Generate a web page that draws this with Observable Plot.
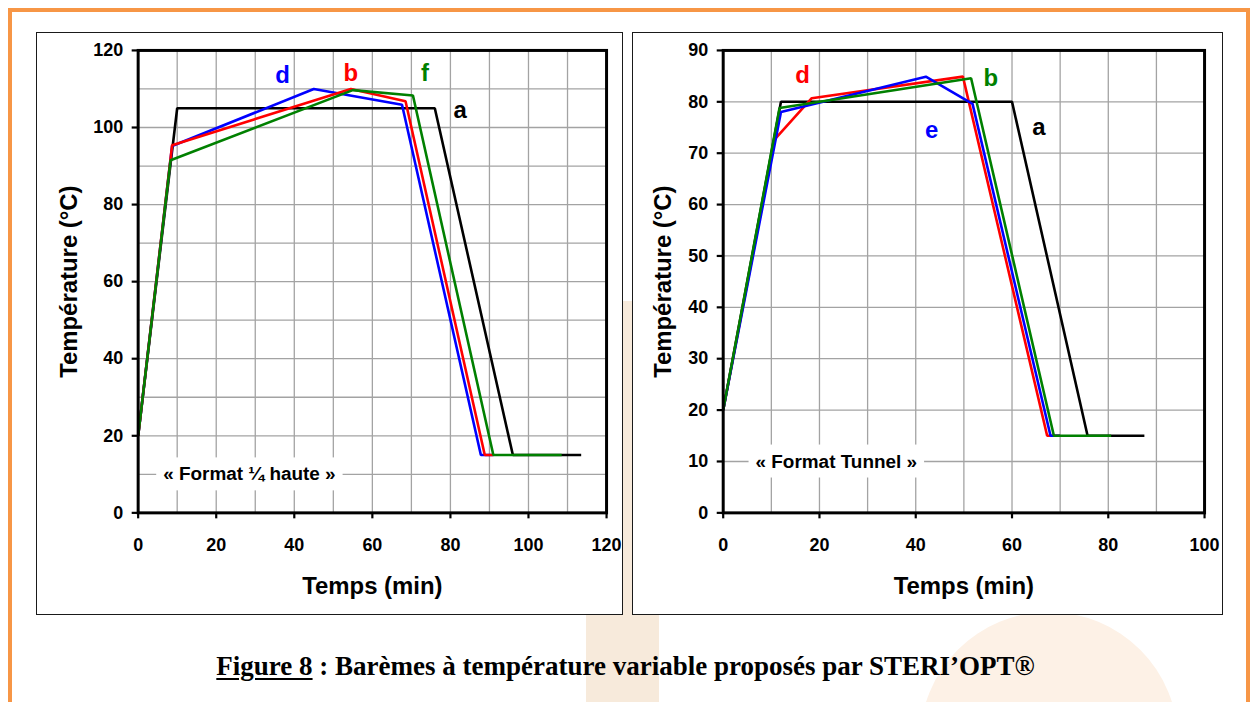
<!DOCTYPE html>
<html>
<head>
<meta charset="utf-8">
<script src="https://cdn.jsdelivr.net/npm/d3@7"></script>
<script src="https://cdn.jsdelivr.net/npm/@observablehq/plot@0.6"></script>
<style>
  html, body { margin: 0; padding: 0; background: #fff; }
  body { width: 1251px; height: 702px; position: relative; overflow: hidden; font-family: "Liberation Sans", Arial, sans-serif; }
  .wm-band { position: absolute; left: 586px; top: 301px; width: 73px; height: 401px; background: #f7eadb; }
  .wm-circle { position: absolute; left: 920px; top: 612px; width: 258px; height: 258px; border-radius: 50%; background: #fdf1e6; }
  .orange { position: absolute; left: 8px; top: 8px; width: 1234px; height: 720px; border: 4px solid #f79646; box-sizing: content-box; }
  .panel { position: absolute; top: 32px; height: 583px; background: #fff; border: 1.5px solid #1a1a1a; box-sizing: border-box; }
  .panel svg { position: absolute; left: 0; top: 0; overflow: visible; }
  #caption { position: absolute; left: 0; width: 1251px; top: 651px; text-align: center; font-family: "Liberation Serif", "Times New Roman", serif; font-weight: bold; font-size: 27px; color: #000; }
  #caption u { text-decoration-thickness: 2px; text-underline-offset: 3px; }
</style>
</head>
<body>
<div class="wm-band"></div>
<div class="wm-circle"></div>
<div class="orange"></div>
<div class="panel" id="left" style="left:36px; width:587px;"></div>
<div class="panel" id="right" style="left:632px; width:591px;"></div>
<div id="caption"><u>Figure 8</u> : Barèmes à température variable proposés par STERI’OPT®</div>
<script>
// ---------- Left chart: « Format ¼ haute » ----------
const leftXTicks = [0, 20, 40, 60, 80, 100, 120];
const leftYTicks = [0, 20, 40, 60, 80, 100, 120];
const leftA_time = [0, 10, 76, 96, 113.5];
const leftA_temp = [20, 105, 105, 15, 15];
const leftD_time = [0, 8.7, 45, 67.6, 87.8, 91];
const leftD_temp = [20, 95.2, 110, 105.9, 15, 15];
const leftB_time = [0, 8.7, 54.5, 68.5, 88.8, 91];
const leftB_temp = [20, 95.4, 110, 106.8, 15, 15];
const leftF_time = [0, 8.3, 55, 70.4, 91, 108.5];
const leftF_temp = [20, 91.5, 109.7, 108.3, 15, 15];
const leftLabels = ["d", "b", "f", "a"];
const leftLabelX = [37, 54.5, 73.5, 82.5];
const leftLabelY = [113.5, 114, 114, 104.5];
const leftLabelColors = ["#0000ff", "#ff0000", "#008000", "#000000"];
const leftFormat = "« Format ¼ haute »";

// ---------- Right chart: « Format Tunnel » ----------
const rightXTicks = [0, 20, 40, 60, 80, 100];
const rightYTicks = [0, 10, 20, 30, 40, 50, 60, 70, 80, 90];
const rightA_time = [0, 12, 60, 75.7, 87.5];
const rightA_temp = [20, 80, 80, 15, 15];
const rightD_time = [0, 10.7, 18.4, 49.8, 67.3, 70];
const rightD_temp = [20, 72.7, 80.7, 84.9, 15, 15];
const rightE_time = [0, 12, 42.1, 51.8, 68, 70];
const rightE_temp = [20, 78, 84.9, 79.6, 15, 15];
const rightB_time = [0, 11.7, 51.5, 68.7, 80.6];
const rightB_temp = [20, 78.8, 84.6, 15, 15];
const rightLabels = ["d", "b", "e", "a"];
const rightLabelX = [16.5, 55.6, 43.3, 65.6];
const rightLabelY = [85.1, 84.5, 74.5, 75.1];
const rightLabelColors = ["#ff0000", "#008000", "#0000ff", "#000000"];
const rightFormat = "« Format Tunnel »";

const yTitle = "Température (°C)";
const xTitle = "Temps (min)";

function rows(times, temps) { return times.map((t, i) => ({t, v: temps[i]})); }

function chart(cfg) {
  const gridVals = d3.range(0, cfg.xmax + 1, 10);
  const gridYVals = d3.range(0, cfg.ymax + 1, 10);
  const labelRows = cfg.labels.map((s, i) => ({s, x: cfg.labelX[i], y: cfg.labelY[i], c: cfg.labelColors[i]}));
  const marks = [
    Plot.gridX(gridVals, {stroke: "#a3a3a3", strokeOpacity: 1, strokeWidth: 1.3}),
    Plot.gridY(gridYVals, {stroke: "#a3a3a3", strokeOpacity: 1, strokeWidth: 1.3}),
    Plot.text([cfg.format], {x: cfg.formatX, y: cfg.formatY, text: d => d, fontSize: 19, fill: "#000"}),
  ];
  cfg.series.forEach(s => {
    marks.push(Plot.line(rows(s.t, s.v), {x: "t", y: "v", stroke: s.color, strokeWidth: 2.6, strokeLinejoin: "miter", strokeLinecap: "butt"}));
  });
  marks.push(
    Plot.frame({stroke: "#000", strokeWidth: 3}),
    Plot.axisX({ticks: cfg.xticks, tickSize: 6, tickPadding: 19, tickFormat: d => String(d), label: null, strokeWidth: 2.2, fontSize: 18}),
    Plot.axisY({ticks: cfg.yticks, tickSize: 6, tickPadding: 9, tickFormat: d => String(d), label: null, strokeWidth: 2.2, fontSize: 18}),
    Plot.text(labelRows, {x: "x", y: "y", text: "s", fill: "c", fontSize: 24}),
    Plot.text([yTitle], {frameAnchor: "left", dx: cfg.yTitleDx, rotate: -90, textAnchor: "middle", lineAnchor: "middle", fontSize: 24, fill: "#000"}),
    Plot.text([xTitle], {frameAnchor: "bottom", dy: 74, textAnchor: "middle", lineAnchor: "middle", fontSize: 24, fill: "#000"})
  );
  return Plot.plot({
    width: cfg.width, height: 582,
    marginLeft: cfg.ml, marginRight: cfg.mr, marginTop: 17, marginBottom: 101,
    x: {domain: [0, cfg.xmax]},
    y: {domain: [0, cfg.ymax]},
    style: {fontFamily: "'Liberation Sans', Arial, sans-serif", fontWeight: "bold", fontSize: "18px", color: "#000", background: "transparent", overflow: "visible"},
    marks
  });
}

function boxLabels(svg, prefix) {
  svg.querySelectorAll("text").forEach(t => {
    if (t.textContent.startsWith(prefix)) {
      const b = t.getBBox();
      const r = document.createElementNS("http://www.w3.org/2000/svg", "rect");
      r.setAttribute("x", b.x - 7);
      r.setAttribute("y", b.y - 6);
      r.setAttribute("width", b.width + 14);
      r.setAttribute("height", b.height + 12);
      r.setAttribute("fill", "#fff");
      const tr = t.getAttribute("transform");
      if (tr) r.setAttribute("transform", tr);
      t.parentNode.insertBefore(r, t);
    }
  });
}

const left = chart({
  width: 587, ml: 101, mr: 16, xmax: 120, ymax: 120,
  xticks: leftXTicks, yticks: leftYTicks,
  format: leftFormat, formatX: 28.5, formatY: 10,
  labels: leftLabels, labelX: leftLabelX, labelY: leftLabelY, labelColors: leftLabelColors,
  yTitleDx: -69,
  series: [
    {t: leftA_time, v: leftA_temp, color: "#000000"},
    {t: leftD_time, v: leftD_temp, color: "#0000ff"},
    {t: leftB_time, v: leftB_temp, color: "#ff0000"},
    {t: leftF_time, v: leftF_temp, color: "#008000"}
  ]
});
document.getElementById("left").appendChild(left);

const right = chart({
  width: 591, ml: 90, mr: 18, xmax: 100, ymax: 90,
  xticks: rightXTicks, yticks: rightYTicks,
  format: rightFormat, formatX: 23.5, formatY: 10,
  labels: rightLabels, labelX: rightLabelX, labelY: rightLabelY, labelColors: rightLabelColors,
  yTitleDx: -60,
  series: [
    {t: rightA_time, v: rightA_temp, color: "#000000"},
    {t: rightD_time, v: rightD_temp, color: "#ff0000"},
    {t: rightE_time, v: rightE_temp, color: "#0000ff"},
    {t: rightB_time, v: rightB_temp, color: "#008000"}
  ]
});
document.getElementById("right").appendChild(right);

boxLabels(left, "«");
boxLabels(right, "«");
</script>
</body>
</html>
